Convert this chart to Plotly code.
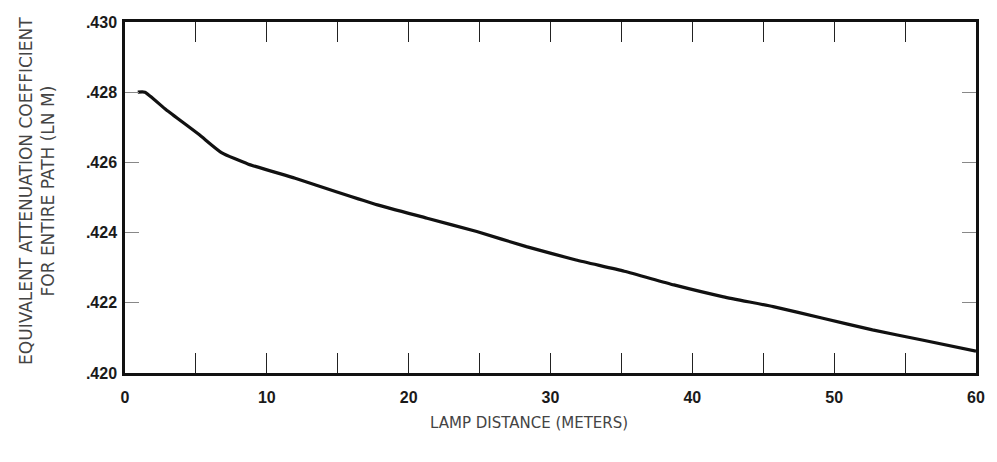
import plotly.graph_objects as go

# Data
lamp_distance = [0.9, 1.4, 2.9, 5.2, 6.8, 8.7, 12.0, 15.0, 17.8, 21.3, 24.8, 28.3, 31.8, 35.2,
                 38.7, 42.2, 45.7, 49.2, 52.7, 56.2, 60.0]
atten_coeff = [0.4280, 0.4280, 0.42750, 0.42680, 0.42628, 0.42595, 0.42555, 0.42515, 0.42479,
               0.42441, 0.42403, 0.42360, 0.42322, 0.42290, 0.42251, 0.42217, 0.42189, 0.42156,
               0.42123, 0.42094, 0.42062]

x_tick_vals = [0, 5, 10, 15, 20, 25, 30, 35, 40, 45, 50, 55, 60]
x_tick_text = ["0", "", "10", "", "20", "", "30", "", "40", "", "50", "", "60"]
y_tick_vals = [0.420, 0.422, 0.424, 0.426, 0.428, 0.430]
y_tick_text = [".420", ".422", ".424", ".426", ".428", ".430"]

x_title = "LAMP DISTANCE (METERS)"
y_title = "EQUIVALENT ATTENUATION COEFFICIENT<br>FOR ENTIRE PATH (LN M)"

fig = go.Figure()
fig.add_trace(go.Scatter(x=lamp_distance, y=atten_coeff, mode="lines",
                         line=dict(color="#111111", width=3.2, shape="spline", smoothing=0.5),
                         showlegend=False, hoverinfo="skip"))

W, H = 997, 462
L, R, T, B = 125, 12, 22, 89

fig.update_layout(
    width=W, height=H,
    margin=dict(l=L, r=R, t=T, b=B),
    paper_bgcolor="white", plot_bgcolor="white",
    font=dict(family="Liberation Sans, Arial, sans-serif", color="#111111"),
    showlegend=False,
)
fig.update_xaxes(
    range=[0, 60], tickvals=x_tick_vals, ticktext=x_tick_text,
    ticks="inside", ticklen=20, tickwidth=1.3, tickcolor="#222222",
    showline=True, linecolor="#111111", linewidth=2.5, mirror="ticks",
    showgrid=False, zeroline=False,
    tickfont=dict(size=16, color="#1a1a1a", weight="bold"), ticklabelstandoff=8,
)
fig.update_yaxes(
    range=[0.420, 0.430], tickvals=y_tick_vals, ticktext=y_tick_text,
    ticks="inside", ticklen=14, tickwidth=1, tickcolor="#888888",
    showline=True, linecolor="#111111", linewidth=2.5, mirror="ticks",
    showgrid=False, zeroline=False,
    tickfont=dict(size=16, color="#1a1a1a", weight="bold"), ticklabelstandoff=2,
)

pw = W - L - R
ph = H - T - B
fig.add_annotation(text=x_title, xref="paper", yref="paper",
                   x=(533 - L) / pw, y=-(423 - (H - B)) / ph,
                   xanchor="center", yanchor="middle", showarrow=False,
                   font=dict(family="DejaVu Sans, sans-serif", size=15, color="#444444"))
fig.add_annotation(text=y_title, xref="paper", yref="paper",
                   x=(36 - L) / pw, y=(H - B - 191) / ph,
                   xanchor="center", yanchor="middle", showarrow=False, textangle=-90,
                   font=dict(family="DejaVu Sans, sans-serif", size=17, color="#444444"))

fig.write_html("out.html")
